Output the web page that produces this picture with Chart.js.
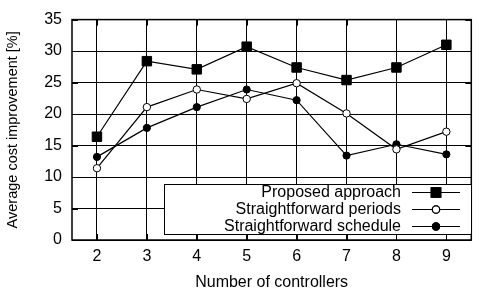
<!DOCTYPE html>
<html>
<head>
<meta charset="utf-8">
<script src="https://cdn.jsdelivr.net/npm/chart.js@4.4.1/dist/chart.umd.min.js"></script>
<style>
  html, body { margin: 0; padding: 0; background: #fff; }
  #wrap { width: 479px; height: 297px; }
</style>
</head>
<body>
<div id="wrap"><canvas id="chart"></canvas></div>
<script>
// data
const controllers = ['2', '3', '4', '5', '6', '7', '8', '9'];
const proposed = [16.4, 28.4, 27.1, 30.7, 27.4, 25.4, 27.4, 31.0];
const periods = [11.4, 21.1, 23.9, 22.4, 24.9, 20.1, 14.4, 17.2];
const schedule = [13.2, 17.8, 21.1, 23.9, 22.2, 13.4, 15.2, 13.6];
const yTicks = [0, 5, 10, 15, 20, 25, 30, 35];

const FONT = 'Liberation Sans, Arial, Helvetica, sans-serif';

// frame, inward ticks on all four sides
const framePlugin = {
  id: 'frame',
  afterDraw(chart) {
    const { ctx, chartArea: a, scales } = chart;
    ctx.save();
    ctx.strokeStyle = '#000';
    ctx.lineWidth = 1;
    ctx.beginPath();
    scales.x.ticks.forEach((t, i) => {
      const x = Math.round(scales.x.getPixelForTick(i)) + 0.5;
      ctx.moveTo(x, a.bottom); ctx.lineTo(x, a.bottom - 6);
      ctx.moveTo(x, a.top); ctx.lineTo(x, a.top + 6);
    });
    yTicks.forEach(v => {
      const y = Math.round(scales.y.getPixelForValue(v)) + 0.5;
      ctx.moveTo(a.left, y); ctx.lineTo(a.left + 6, y);
      ctx.moveTo(a.right, y); ctx.lineTo(a.right - 6, y);
    });
    ctx.stroke();
    ctx.lineWidth = 1.5;
    ctx.strokeRect(a.left, a.top, a.right - a.left, a.bottom - a.top);
    ctx.restore();
  }
};

// gnuplot style key: text right aligned, sample on the right
const keyPlugin = {
  id: 'key',
  afterDraw(chart) {
    const { ctx } = chart;
    const box = { x: 164, y: 184, w: 307, h: 50 };
    ctx.save();
    ctx.fillStyle = '#fff';
    ctx.fillRect(box.x, box.y, box.w, box.h);
    ctx.strokeStyle = '#000';
    ctx.lineWidth = 1;
    ctx.strokeRect(box.x + 0.5, box.y + 0.5, box.w, box.h);
    ctx.font = '16px ' + FONT;
    ctx.textAlign = 'right';
    ctx.textBaseline = 'middle';
    chart.data.datasets.forEach((ds, i) => {
      const y = 192 + i * 16.8;
      ctx.fillStyle = '#000';
      ctx.fillText(ds.label, 401, y + 1);
      ctx.beginPath();
      ctx.lineWidth = 1.2;
      ctx.moveTo(412, Math.round(y) + 0.5);
      ctx.lineTo(460, Math.round(y) + 0.5);
      ctx.stroke();
      Chart.helpers.drawPoint(ctx, {
        pointStyle: ds.pointStyle,
        radius: ds.pointRadius,
        borderWidth: 1
      }, 436, Math.round(y) + 0.5);
      ctx.fillStyle = ds.pointBackgroundColor;
      ctx.fill();
      ctx.stroke();
    });
    ctx.restore();
  }
};

new Chart(document.getElementById('chart'), {
  type: 'line',
  data: {
    labels: controllers,
    datasets: [
      {
        label: 'Proposed approach',
        data: proposed,
        borderColor: '#000',
        borderWidth: 1.2,
        pointStyle: 'rect',
        pointRadius: 6.7,
        pointBackgroundColor: '#000',
        pointBorderColor: '#000',
        pointBorderWidth: 1
      },
      {
        label: 'Straightforward periods',
        data: periods,
        borderColor: '#000',
        borderWidth: 1.2,
        pointStyle: 'circle',
        pointRadius: 3.7,
        pointBackgroundColor: '#fff',
        pointBorderColor: '#000',
        pointBorderWidth: 1
      },
      {
        label: 'Straightforward schedule',
        data: schedule,
        borderColor: '#000',
        borderWidth: 1.2,
        pointStyle: 'circle',
        pointRadius: 3.6,
        pointBackgroundColor: '#000',
        pointBorderColor: '#000',
        pointBorderWidth: 1
      }
    ]
  },
  options: {
    responsive: true,
    maintainAspectRatio: false,
    animation: false,
    layout: { padding: { top: 13, right: 0, left: 0, bottom: 0 } },
    plugins: { legend: { display: false }, tooltip: { enabled: false } },
    scales: {
      x: {
        offset: true,
        grid: { color: '#000', lineWidth: 1, borderDash: [1, 2], drawTicks: false, offset: false },
        border: { display: false },
        ticks: { color: '#000', font: { family: FONT, size: 16 }, padding: 7 },
        title: { display: true, text: 'Number of controllers', color: '#000',
                 font: { family: FONT, size: 16 }, padding: { top: 4, bottom: 5 } },
        afterFit(s) { s.height = 57; }
      },
      y: {
        min: 0, max: 35,
        grid: { color: '#000', lineWidth: 1, borderDash: [1, 2], drawTicks: false },
        border: { display: false },
        ticks: { stepSize: 5, color: '#000', font: { family: FONT, size: 16 }, padding: 10 },
        title: { display: true, text: 'Average cost improvement [%]', color: '#000',
                 font: { family: FONT, size: 14.5 }, padding: { top: 4, bottom: 4 } },
        afterFit(s) { s.width = 72; }
      }
    }
  },
  plugins: [framePlugin, keyPlugin]
});
</script>
</body>
</html>
